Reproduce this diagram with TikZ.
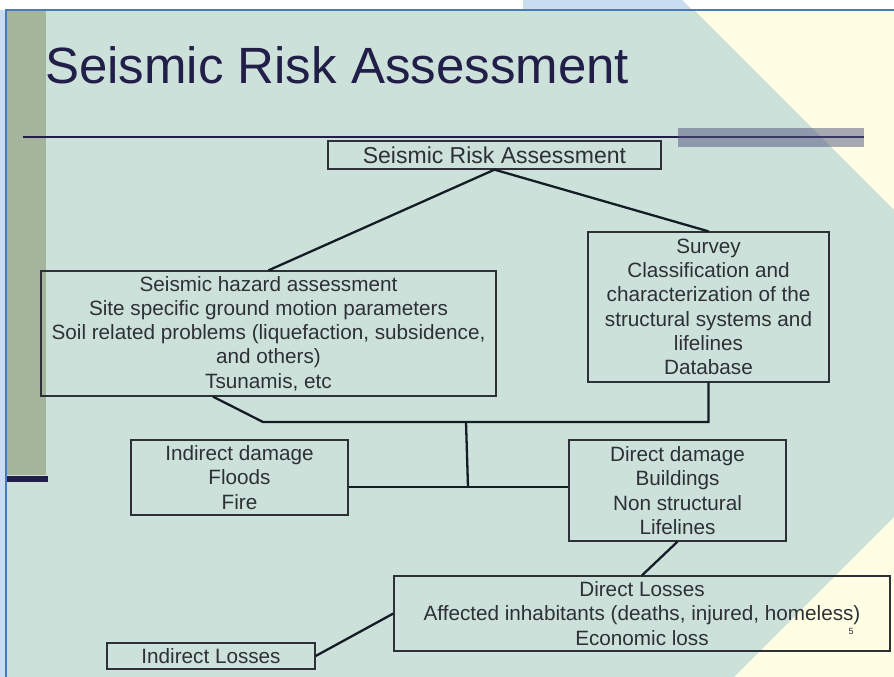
\documentclass[tikz,border=0pt]{standalone}
\usepackage{fontspec}
\setmainfont{Liberation Sans}
\usepackage{tikz}
\usetikzlibrary{calc}

\definecolor{slideteal}{RGB}{205,225,219}
\definecolor{slideyellow}{RGB}{255,254,228}
\definecolor{slidesky}{RGB}{200,221,240}
\definecolor{slideframe}{RGB}{74,122,186}
\definecolor{sagebar}{RGB}{164,181,156}
\definecolor{navyink}{RGB}{33,30,72}
\definecolor{boxink}{RGB}{45,48,52}
\definecolor{lineink}{RGB}{20,28,38}
\definecolor{greybar}{RGB}{80,85,125}

\begin{document}
\begin{tikzpicture}[x=1pt, y=-1pt,
  box/.style={draw=boxink, line width=1.3pt, align=center, inner sep=0pt, text=boxink, font=\fontsize{20.7}{24.3}\selectfont},
  link/.style={draw=lineink, line width=2.3pt}
]
\useasboundingbox (0,0) rectangle (894,677);

% slide background
\fill[white] (0,0) rectangle (894,677);
\fill[slidesky] (0,10) rectangle (6,677);
\fill[slidesky] (523,0) -- (682,0) -- (692,10) -- (523,10) -- cycle;
\fill[slideyellow] (6,10) rectangle (894,677);
\fill[slideteal] (6,10) -- (694,10) -- (894,210) -- (894,517) -- (734,677) -- (6,677) -- cycle;
\fill[sagebar] (7,10) rectangle (46,475);
\fill[navyink] (7,476) rectangle (48,482);
\draw[slideframe, line width=1.2pt] (894,10) -- (6,10) -- (6,677);
\draw[navyink, line width=1.2pt] (23,137) -- (864,137);
\fill[greybar, opacity=0.5] (678,128) rectangle (864,147);

\node[anchor=base west, inner sep=0pt, text=navyink, font=\fontsize{51}{60}\selectfont] (title) at (45,84) {Seismic Risk Assessment};

\node[box, minimum width=333pt, minimum height=28pt, font=\fontsize{23}{27}\selectfont] (sra) at (494.5,155) {Seismic Risk Assessment};
\node[box, minimum width=455pt, minimum height=125pt] (hazard) at (268.5,333.5) {Seismic hazard assessment\\Site specific ground motion parameters\\Soil related problems (liquefaction, subsidence,\\and others)\\Tsunamis, etc};
\node[box, minimum width=241pt, minimum height=150pt] (survey) at (708.5,307) {Survey\\Classification and\\characterization of the\\structural systems and\\lifelines\\Database};
\node[box, minimum width=217pt, minimum height=75pt] (inddmg) at (239.5,477.5) {Indirect damage\\Floods\\Fire};
\node[box, minimum width=217pt, minimum height=101pt] (dirdmg) at (677.5,490.5) {Direct damage\\Buildings\\Non structural\\Lifelines};
\node[box, minimum width=496pt, minimum height=75pt] (dirloss) at (642,613.5) {Direct Losses\\Affected inhabitants (deaths, injured, homeless)\\Economic loss};
\node[box, minimum width=208pt, minimum height=26pt] (indloss) at (211,656) {Indirect Losses};
\node[inner sep=0pt, text=boxink, font=\fontsize{9}{10}\selectfont] (pagenum) at (851,631) {5};

\coordinate (kink) at (263,422);
\coordinate (join) at (466,422);
\coordinate (mid) at (468,487);

\draw[link] (sra.south) -- (hazard.north);
\draw[link] (sra.south) -- (survey.north);
\draw[link] ([xshift=-55.5pt]hazard.south) -- (kink) -| (survey.south);
\draw[link] (join) -- (mid);
\draw[link] (inddmg.east |- mid) -- (dirdmg.west |- mid);
\draw[link] (dirdmg.south) -- (dirloss.north);
\draw[link] (dirloss.west) -- (indloss.east);
\end{tikzpicture}
\end{document}
